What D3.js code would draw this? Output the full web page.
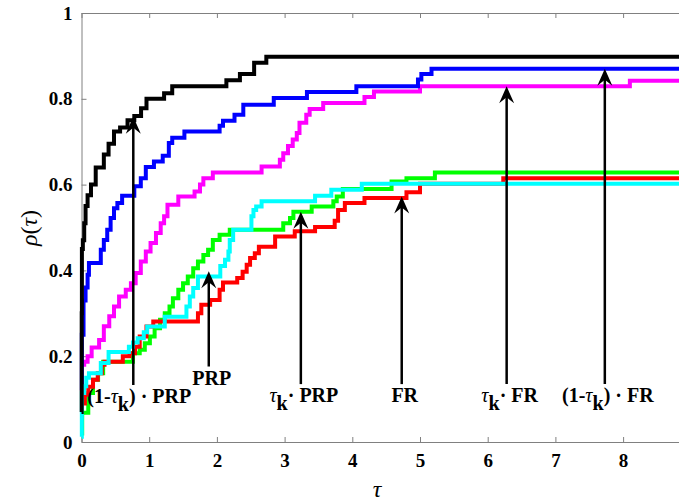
<!DOCTYPE html>
<html>
<head>
<meta charset="utf-8">
<script src="https://cdn.jsdelivr.net/npm/d3@7"></script>
<style>
  html, body { margin: 0; padding: 0; background: #fff; }
  svg { display: block; overflow: hidden; }
  .axis path, .axis line { stroke: #808080; stroke-width: 1; }
  .axis text { font-family: "Liberation Serif", "Times New Roman", serif; font-weight: bold; font-size: 19px; fill: #000; }
</style>
</head>
<body>
<svg id="chart" width="679" height="503"></svg>
<script>
/*
 * Performance profiles: rho(tau) step curves for six methods
 * ========================================================================== */

// [tau, rho] step points
const prpMinusTk = [[0,0.07],[0.003,0.3],[0.006,0.45],[0.02,0.47],[0.04,0.51],[0.06,0.55],[0.09,0.575],[0.14,0.6],[0.21,0.64],[0.33,0.67],[0.4,0.695],[0.48,0.724],[0.57,0.733],[0.68,0.75],[0.78,0.76],[0.88,0.778],[0.96,0.8],[1.22,0.813],[1.34,0.829],[2.14,0.843],[2.34,0.858],[2.55,0.884],[2.73,0.898],[9,0.898]];
const frMinusTk = [[0,0.12],[0.005,0.25],[0.03,0.33],[0.06,0.36],[0.09,0.39],[0.11,0.417],[0.285,0.448],[0.33,0.471],[0.38,0.495],[0.43,0.522],[0.48,0.545],[0.53,0.557],[0.6,0.574],[0.78,0.596],[0.876,0.615],[0.95,0.641],[1.07,0.654],[1.2,0.667],[1.29,0.697],[1.34,0.709],[1.52,0.724],[2.04,0.737],[2.09,0.749],[2.26,0.763],[2.39,0.786],[2.84,0.802],[3.33,0.816],[4.06,0.829],[4.97,0.845],[5.02,0.858],[5.17,0.87],[9,0.87]];
const frTk = [[0.01,0.18],[0.04,0.187],[0.09,0.2],[0.15,0.22],[0.26,0.238],[0.33,0.27],[0.41,0.293],[0.48,0.316],[0.555,0.339],[0.654,0.355],[0.73,0.37],[0.8,0.394],[0.876,0.421],[0.95,0.444],[1.02,0.464],[1.1,0.487],[1.17,0.51],[1.22,0.526],[1.27,0.553],[1.43,0.572],[1.67,0.584],[1.75,0.6],[1.8,0.615],[1.94,0.628],[2.66,0.642],[2.93,0.658],[2.98,0.673],[3.05,0.69],[3.12,0.705],[3.18,0.72],[3.22,0.744],[3.32,0.763],[3.37,0.776],[3.57,0.79],[4.18,0.804],[4.32,0.817],[5.0,0.829],[8.1,0.842],[9,0.842]];
const prpTk = [[0,0.02],[0.01,0.068],[0.1,0.114],[0.17,0.145],[0.245,0.16],[0.32,0.187],[0.76,0.207],[0.86,0.215],[0.935,0.23],[1.01,0.246],[1.08,0.265],[1.16,0.285],[1.23,0.3],[1.3,0.316],[1.35,0.335],[1.43,0.355],[1.5,0.37],[1.57,0.386],[1.65,0.405],[1.72,0.421],[1.8,0.436],[1.87,0.448],[1.94,0.471],[2.04,0.483],[2.19,0.495],[2.98,0.51],[3.08,0.522],[3.13,0.537],[3.4,0.549],[3.72,0.561],[3.77,0.572],[3.86,0.59],[4.58,0.607],[4.8,0.615],[5.22,0.628],[9,0.628]];
const fr = [[0.02,0.09],[0.05,0.11],[0.1,0.129],[0.17,0.145],[0.24,0.16],[0.3,0.18],[0.34,0.187],[0.61,0.2],[0.71,0.207],[0.79,0.222],[0.86,0.246],[0.96,0.269],[1.06,0.281],[1.72,0.3],[1.77,0.32],[1.9,0.331],[2.04,0.355],[2.09,0.372],[2.3,0.382],[2.38,0.397],[2.44,0.413],[2.49,0.429],[2.56,0.44],[2.62,0.455],[2.86,0.479],[3.15,0.491],[3.45,0.501],[3.74,0.516],[3.79,0.541],[3.89,0.557],[4.18,0.569],[4.8,0.582],[5.0,0.602],[6.23,0.615],[9,0.615]];
const prp = [[0,0.012],[0.005,0.114],[0.04,0.13],[0.07,0.15],[0.11,0.16],[0.285,0.184],[0.4,0.21],[0.7,0.222],[0.76,0.232],[0.83,0.242],[0.92,0.256],[0.97,0.269],[1.23,0.292],[1.55,0.316],[1.6,0.339],[1.65,0.359],[1.72,0.386],[2.05,0.41],[2.12,0.425],[2.17,0.444],[2.19,0.471],[2.24,0.495],[2.51,0.526],[2.54,0.541],[2.58,0.549],[2.66,0.561],[3.45,0.574],[3.69,0.588],[4.14,0.602],[9,0.602]];

// drawing order and colours
const seriesData   = [frTk, frMinusTk, prpTk, fr, prp, prpMinusTk];
const seriesColors = ['#ff00ff', '#0000ff', '#00ff00', '#ff0000', '#00ffff', '#000000'];

// tick values
const xTicks = [0, 1, 2, 3, 4, 5, 6, 7, 8];
const yTicks = [0, 0.2, 0.4, 0.6, 0.8, 1];

// annotations: arrow x, arrow tip, label baseline (all in data units)
const arrowTau  = [0.765, 1.88, 3.24, 4.73, 6.28, 7.73];
const arrowRho  = [0.758, 0.398, 0.537, 0.572, 0.829, 0.87];
const labelRho  = [0.091, 0.134, 0.093, 0.093, 0.093, 0.093];
// label pieces: b = bold, i = italic tau, s = bold subscript
const labelParts = [
  [['(1-', 'b'], ['\u03C4', 'i'], ['k', 's'], [')', 'b'], [' \u00B7 PRP', 'b']],
  [['PRP', 'b']],
  [['\u03C4', 'i'], ['k', 's'], ['\u00B7 PRP', 'b']],
  [['FR', 'b']],
  [['\u03C4', 'i'], ['k', 's'], ['\u00B7 FR', 'b']],
  [['(1-', 'b'], ['\u03C4', 'i'], ['k', 's'], [')', 'b'], [' \u00B7 FR', 'b']]
];

const SERIF = '"Liberation Serif", "Times New Roman", serif';

let svg = d3.select('#chart');

let x = d3.scaleLinear().domain([0, 9]).range([81.5, 81.5 + 9 * 67.7]),
    y = d3.scaleLinear().domain([0, 1]).range([442, 13]);

/*
 * Axes (ticks point inward, box top)
 */
svg.append('g')
    .attr('class', 'axis')
    .attr('transform', 'translate(0,' + y(0) + ')')
    .call(d3.axisBottom(x).tickValues(xTicks).tickFormat(d3.format('d'))
            .tickSizeInner(-5).tickSizeOuter(0).tickPadding(12));

svg.append('g')
    .attr('class', 'axis')
    .attr('transform', 'translate(0,' + y(1) + ')')
    .call(d3.axisTop(x).tickValues(xTicks).tickFormat('')
            .tickSizeInner(-5).tickSizeOuter(0));

svg.append('g')
    .attr('class', 'axis')
    .attr('transform', 'translate(' + x(0) + ',0)')
    .call(d3.axisLeft(y).tickValues(yTicks).tickFormat(d3.format('~g'))
            .tickSizeInner(-5).tickSizeOuter(0).tickPadding(9));

/*
 * Step curves
 */
let line = d3.line()
    .x(d => x(d[0]))
    .y(d => y(d[1]))
    .curve(d3.curveStepAfter);

svg.append('g')
  .selectAll('path')
    .data(seriesData)
  .enter().append('path')
    .attr('d', line)
    .attr('fill', 'none')
    .attr('stroke', (d, i) => seriesColors[i])
    .attr('stroke-width', 4)
    .attr('stroke-linejoin', 'miter');

/*
 * Arrows and labels
 */
let notes = svg.append('g');

arrowTau.forEach((t, i) => {
  let ax = x(t),
      tip = y(arrowRho[i]),
      base = y(labelRho[i]) - 18;

  notes.append('line')
      .attr('x1', ax).attr('x2', ax)
      .attr('y1', base).attr('y2', tip + 8)
      .attr('stroke', '#000')
      .attr('stroke-width', 2.5);

  notes.append('path')
      .attr('d', 'M' + ax + ',' + tip +
                 'L' + (ax + 7.5) + ',' + (tip + 17) +
                 'L' + ax + ',' + (tip + 11) +
                 'L' + (ax - 7.5) + ',' + (tip + 17) + 'Z')
      .attr('fill', '#000');

  let text = notes.append('text')
      .attr('x', ax + (i === 0 ? 6 : 3))
      .attr('y', y(labelRho[i]))
      .attr('text-anchor', 'middle')
      .style('font-family', SERIF)
      .style('font-size', '20px');

  let shifted = false;
  labelParts[i].forEach(p => {
    let ts = text.append('tspan').text(p[0]);
    if (p[1] === 'i') {
      ts.style('font-style', 'italic').style('font-weight', 'normal');
    } else {
      ts.style('font-weight', 'bold');
    }
    if (p[1] === 's') {
      ts.attr('dy', 8);
      shifted = true;
    } else if (shifted) {
      ts.attr('dy', -8);
      shifted = false;
    }
  });
});

/*
 * Axis titles
 */
svg.append('text')
    .attr('x', 377)
    .attr('y', 497)
    .attr('text-anchor', 'middle')
    .style('font-family', SERIF)
    .style('font-style', 'italic')
    .style('font-size', '24px')
    .text('\u03C4');

let yTitle = svg.append('text')
    .attr('transform', 'translate(37,228) rotate(-90)')
    .attr('text-anchor', 'middle')
    .style('font-family', SERIF)
    .style('font-size', '24px');
yTitle.append('tspan').style('font-style', 'italic').text('\u03C1');
yTitle.append('tspan').text('(');
yTitle.append('tspan').style('font-style', 'italic').text('\u03C4');
yTitle.append('tspan').text(')');
</script>
</body>
</html>
